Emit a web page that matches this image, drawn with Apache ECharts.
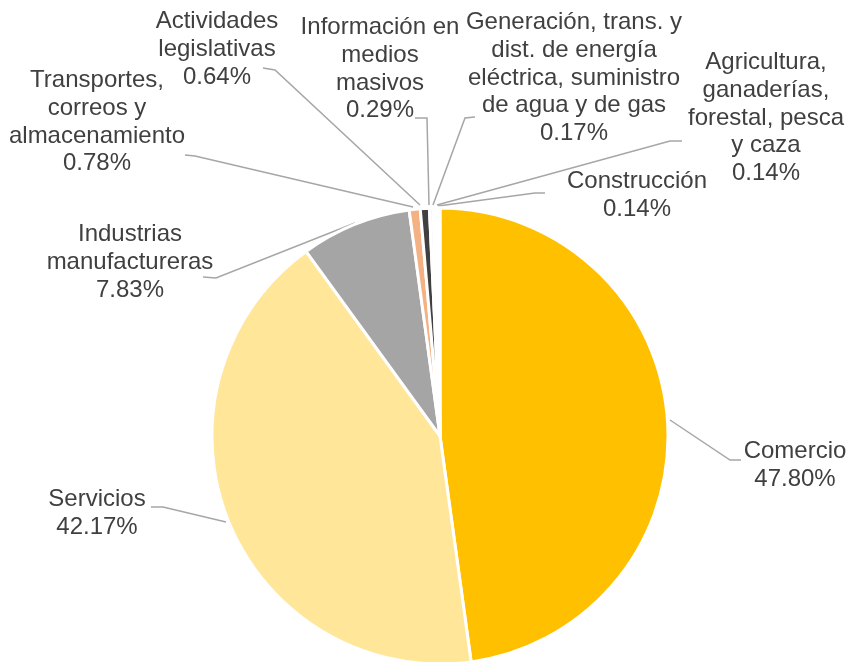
<!DOCTYPE html>
<html>
<head>
<meta charset="utf-8">
<script src="https://cdn.jsdelivr.net/npm/echarts@6/dist/echarts.min.js"></script>
<style>html,body{margin:0;padding:0;background:#fff;}#chart{width:848px;height:662px;}</style>
</head>
<body>
<div id="chart"></div>
<script>
// ---- data ----
const categories = [
  "Comercio",
  "Servicios",
  "Industrias manufactureras",
  "Transportes, correos y almacenamiento",
  "Actividades legislativas",
  "Información en medios masivos",
  "Generación, trans. y dist. de energía eléctrica, suministro de agua y de gas",
  "Agricultura, ganaderías, forestal, pesca y caza",
  "Construcción"
];
const values = [47.80, 42.17, 7.83, 0.78, 0.64, 0.29, 0.17, 0.14, 0.14];
const labelLines = [
  ["Comercio"],
  ["Servicios"],
  ["Industrias", "manufactureras"],
  ["Transportes,", "correos y", "almacenamiento"],
  ["Actividades", "legislativas"],
  ["Información en", "medios", "masivos"],
  ["Generación, trans. y", "dist. de energía", "eléctrica, suministro", "de agua y de gas"],
  ["Agricultura,", "ganaderías,", "forestal, pesca", "y caza"],
  ["Construcción"]
];

// ---- styling / layout (not data) ----
const colors = ["#FFC000", "#FFE699", "#A5A5A5", "#F4B183", "#404040", "#F7F7F7", "#F7F7F7", "#F7F7F7", "#F7F7F7"];
// label block: center x, top y ; leader: slice point, bend, end
const labelPos = [
  {x: 795, y: 438, line: [[670, 420], [730, 460], [741, 460]]},
  {x: 97,  y: 486, line: [[226, 522], [163, 507], [151, 507]]},
  {x: 130, y: 221, line: [[355, 223], [216, 278], [203, 277]]},
  {x: 97,  y: 67,  line: [[413, 207], [195, 156], [185, 155]]},
  {x: 217, y: 8,   line: [[420, 205], [275, 70], [263, 68]]},
  {x: 380, y: 14,  line: [[429, 205], [427, 118], [415, 118]]},
  {x: 574, y: 9,   line: [[433, 205], [465, 118], [475, 117]]},
  {x: 766, y: 49,  line: [[437, 205], [670, 141], [682, 141]]},
  {x: 637, y: 168, line: [[438, 206], [535, 193], [545, 193]]}
];

const data = categories.map((c, i) => ({
  name: c,
  value: values[i],
  itemStyle: {color: colors[i]}
}));

const chart = echarts.init(document.getElementById('chart'), null, {renderer: 'canvas'});
chart.setOption({
  animation: false,
  backgroundColor: '#ffffff',
  series: [{
    type: 'pie',
    center: [440, 436],
    radius: [0, 228],
    startAngle: 90,
    clockwise: true,
    avoidLabelOverlap: false,
    itemStyle: {borderColor: '#ffffff', borderWidth: 3},
    label: {
      show: true,
      position: 'outside',
      fontFamily: 'Liberation Sans, Arial, sans-serif',
      fontSize: 24,
      lineHeight: 27.6,
      color: '#404040',
      align: 'center',
      formatter: function (p) {
        return labelLines[p.dataIndex].concat([values[p.dataIndex].toFixed(2) + '%']).join('\n');
      }
    },
    labelLine: {
      show: true,
      lineStyle: {color: '#A6A6A6', width: 1.5}
    },
    labelLayout: function (params) {
      const L = labelPos[params.dataIndex];
      return {
        x: L.x,
        y: L.y,
        align: 'center',
        verticalAlign: 'top',
        labelLinePoints: L.line
      };
    },
    data: data
  }]
});
</script>
</body>
</html>
